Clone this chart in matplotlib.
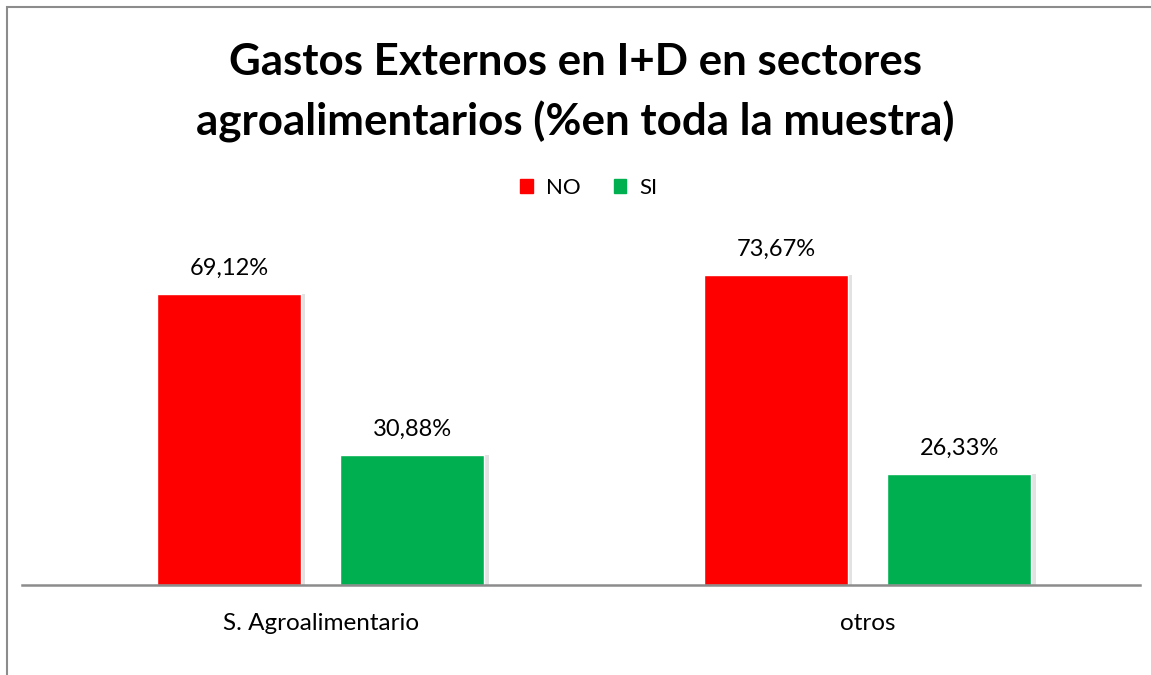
import matplotlib.pyplot as plt
import numpy as np
from matplotlib.patches import Rectangle

plt.rcParams['font.family'] = ['Lato', 'DejaVu Sans']

categories = ["S. Agroalimentario", "otros"]
series_names = ["NO", "SI"]
no_vals = [69.12, 73.67]
si_vals = [30.88, 26.33]
labels_no = ["69,12%", "73,67%"]
labels_si = ["30,88%", "26,33%"]

colors = ["#ff0000", "#00b050"]

W, H = 1151, 675
fig = plt.figure(figsize=(W / 100, H / 100), dpi=100)

# outer chart frame (only left/top visible in the crop)
fig.patches.append(Rectangle((7 / W, -0.1), 1.2, 1 - 7 / H + 0.1, transform=fig.transFigure,
                             fill=False, edgecolor="#8c8c8c", linewidth=1.5))

ax = fig.add_axes([22 / W, (H - 585) / H, (1140 - 22) / W, (585 - 164) / H])

x = np.arange(len(categories))
width = 0.263
off = 0.1675

for vals, labs, c, dx, name in [(no_vals, labels_no, colors[0], -off, series_names[0]),
                                 (si_vals, labels_si, colors[1], off, series_names[1])]:
    # faint shadow to the right of each bar
    ax.bar(x + dx + 0.008, vals, width, color="#d0d0d0", alpha=0.6, zorder=1)
    bars = ax.bar(x + dx, vals, width, color=c, label=name, zorder=2,
                  edgecolor="white", linewidth=1)
    for b, t in zip(bars, labs):
        ax.text(b.get_x() + b.get_width() / 2, b.get_height() + 3.6, t,
                ha="center", va="bottom", fontsize=17, color="#000000")

ax.set_xlim(-0.546, 1.498)
ax.set_ylim(0, 100)
ax.set_yticks([])
ax.set_xticks(x)
ax.set_xticklabels(categories, fontsize=17.5)
ax.tick_params(axis="x", length=0, pad=20)
for s in ["top", "right", "left"]:
    ax.spines[s].set_visible(False)
ax.spines["bottom"].set_color("#8c8c8c")
ax.spines["bottom"].set_linewidth(1.8)

fig.text(0.5, 1 - 62 / H, "Gastos Externos en I+D en sectores", ha="center", va="center",
         fontsize=31.6, fontweight="bold")
fig.text(0.5, 1 - 122 / H, "agroalimentarios (%en toda la muestra)", ha="center", va="center",
         fontsize=31.6, fontweight="bold")

handles = [Rectangle((0, 0), 1, 1, color=c) for c in colors]
fig.legend(handles, series_names, loc="center", bbox_to_anchor=(589 / W, 1 - 188 / H),
           ncol=2, frameon=False, fontsize=16, handlelength=0.55, handleheight=0.55,
           handletextpad=0.6, columnspacing=1.5)

fig.savefig("out.png", dpi=100)
